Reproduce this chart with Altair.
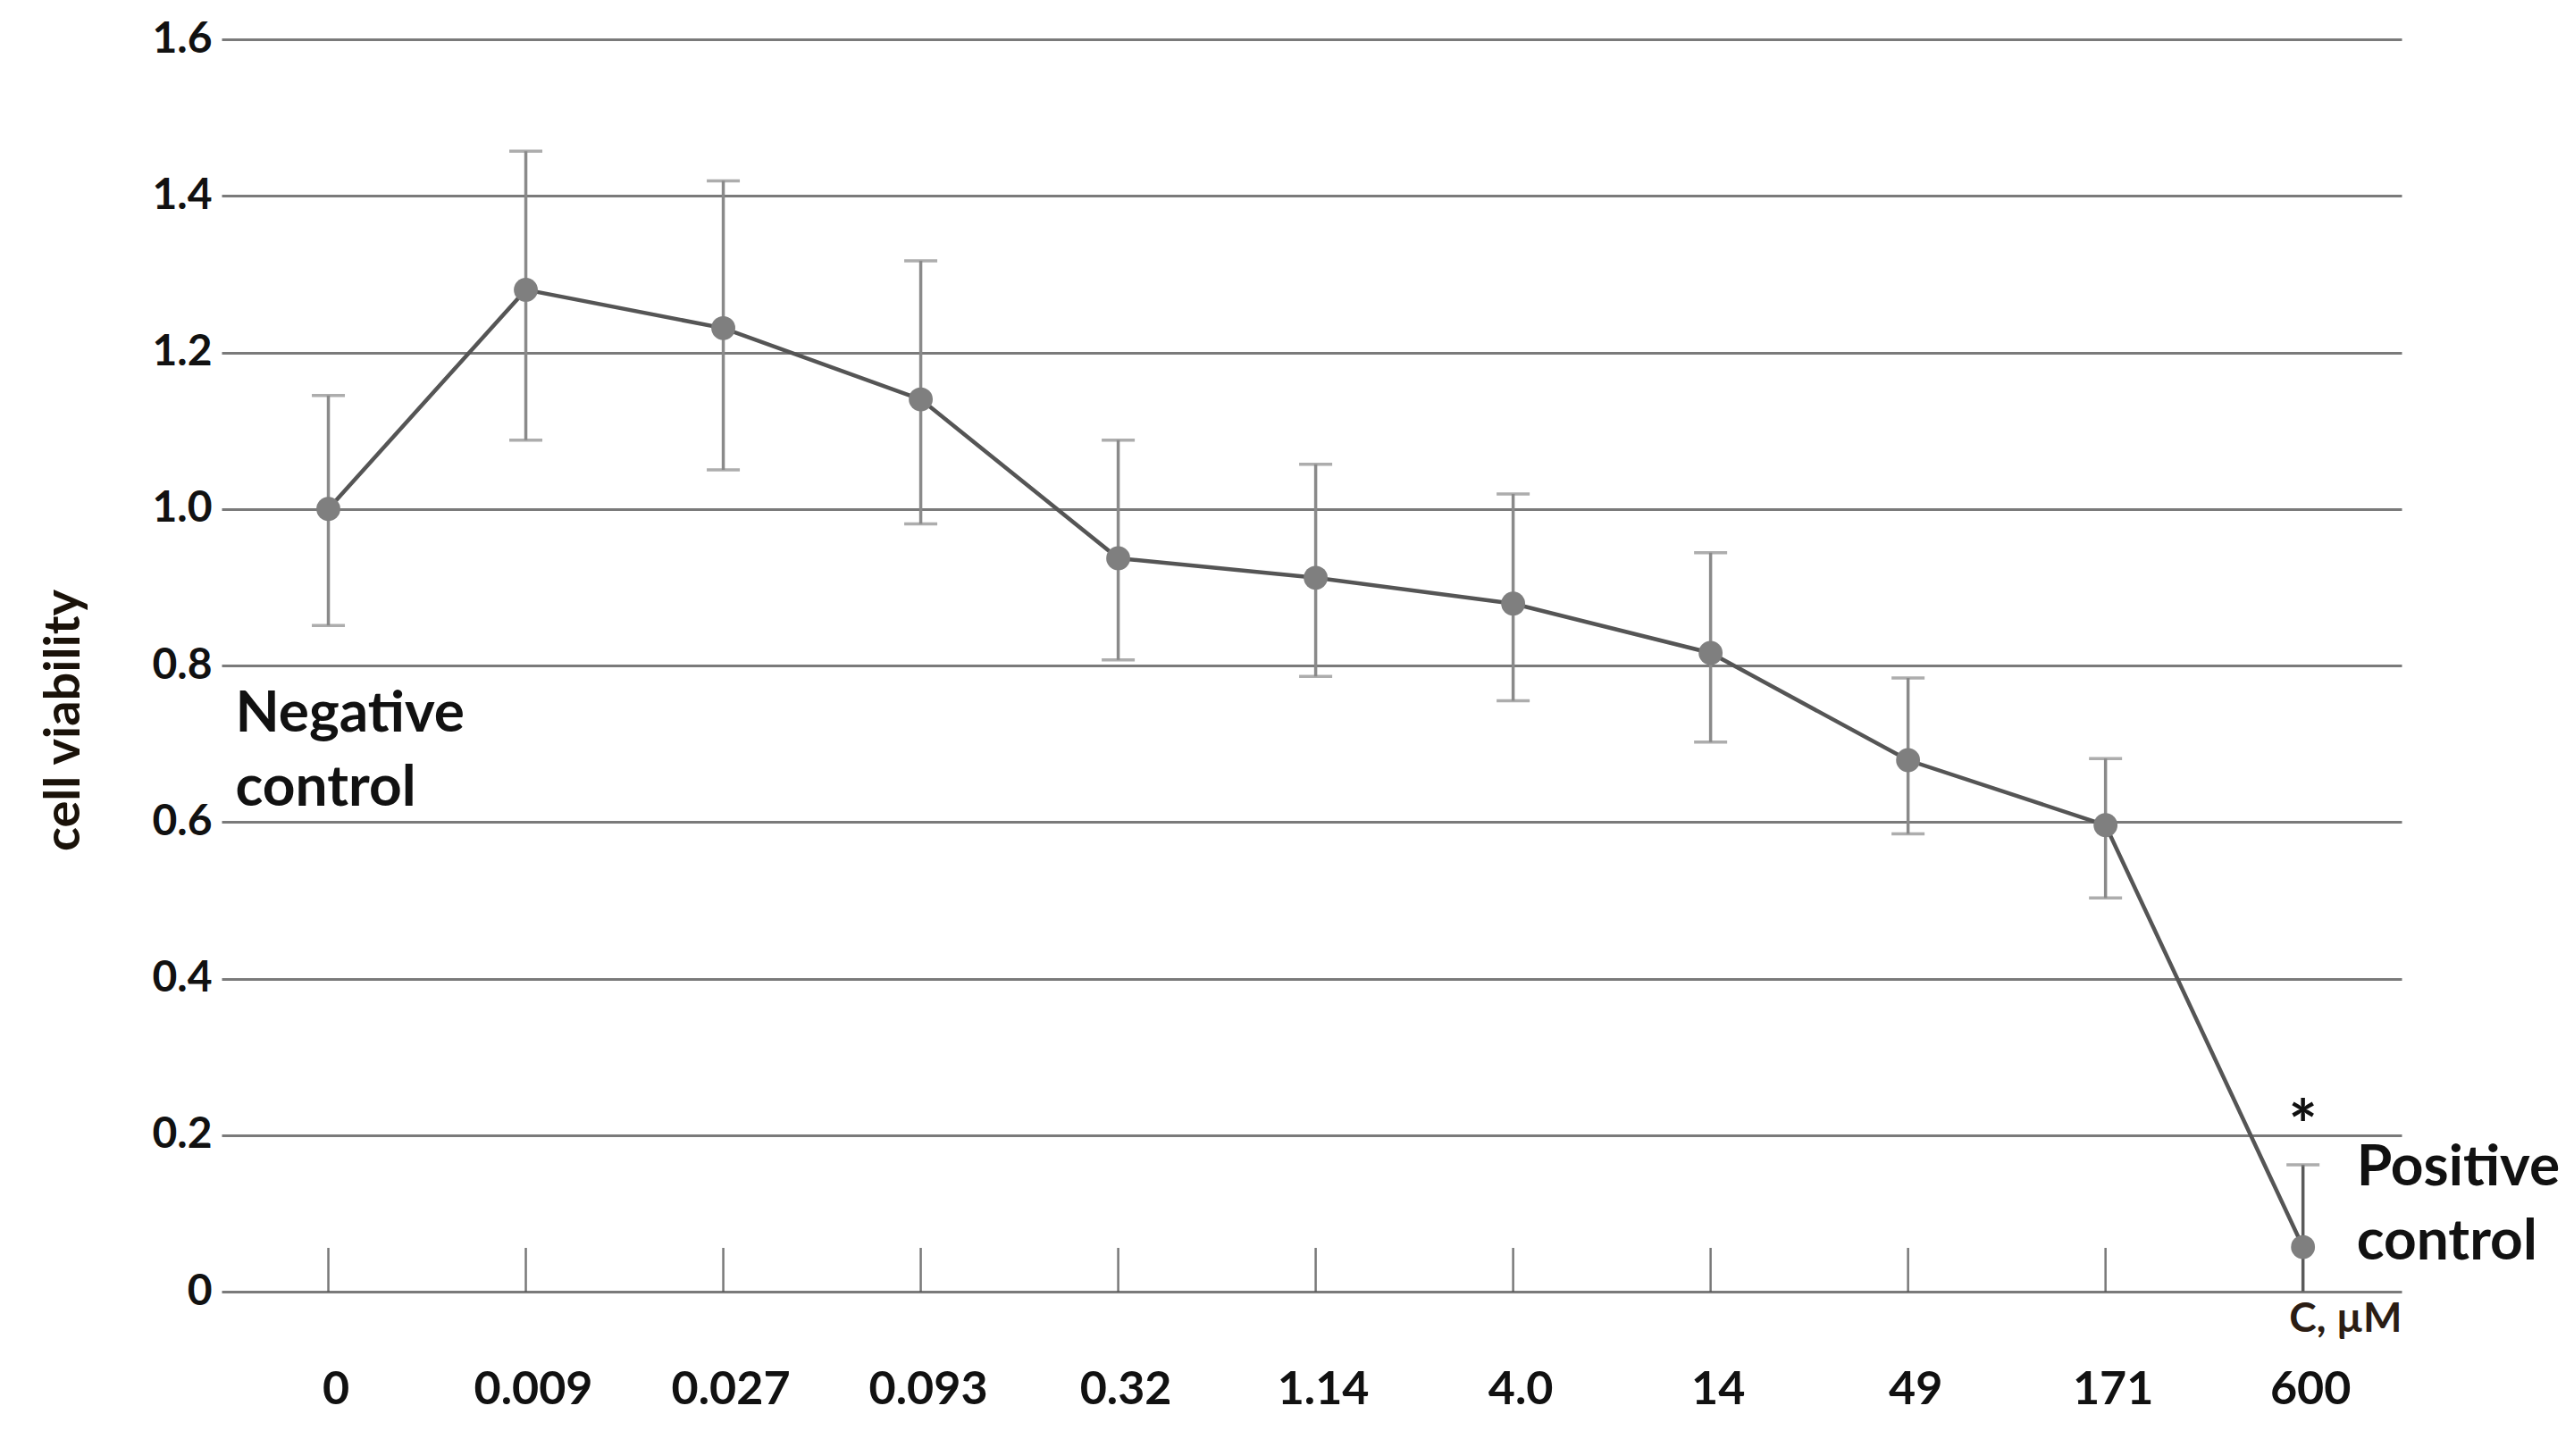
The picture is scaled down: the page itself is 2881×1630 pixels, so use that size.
import altair as alt
import pandas as pd

# ---- data ----
concentrations = ["0", "0.009", "0.027", "0.093", "0.32", "1.14", "4.0", "14", "49", "171", "600"]
viability = [1.000, 1.280, 1.231, 1.140, 0.937, 0.912, 0.879, 0.816, 0.679, 0.596, 0.057]
err_high = [1.145, 1.457, 1.419, 1.317, 1.088, 1.057, 1.019, 0.944, 0.784, 0.681, 0.162]
err_low = [0.851, 1.088, 1.050, 0.981, 0.807, 0.786, 0.755, 0.702, 0.585, 0.503, 0.000]
y_ticks = [0, 0.2, 0.4, 0.6, 0.8, 1.0, 1.2, 1.4, 1.6]

df = pd.DataFrame({"conc": concentrations, "v": viability, "lo": err_low, "hi": err_high})

caps_conc = concentrations + concentrations[:-1]
caps_val = err_high + err_low[:-1]
caps = pd.DataFrame({"conc": caps_conc, "val": caps_val})

notes = pd.DataFrame({
    "conc": ["0", "600", "600"],
    "y": [0.7155, 0.136, 0.233],
    "text": ["Negative\ncontrol", "Positive\ncontrol", "*"],
})

FONT = "Lato"

x_enc = alt.X(
    "conc:O",
    sort=concentrations,
    scale=alt.Scale(type="point", padding=0.52, align=0.52),
    axis=alt.Axis(
        title="C, µM", titleX=2440, titleY=44, titleAlign="right", titleBaseline="alphabetic",
        titleFont=FONT, titleFontSize=46, titleFontWeight="bold", titleColor="#2b1d14",
        labelFont=FONT, labelFontSize=52, labelFontWeight="bold", labelColor="#111111",
        labelAngle=0, labelBaseline="alphabetic", labelPadding=125, labelOffset=8,
        ticks=False, tickSize=0, domain=False, grid=False,
    ),
)

y_scale = alt.Scale(domain=[0, 1.6], nice=False, zero=True)
y_axis = alt.Axis(
    values=y_ticks,
    labelExpr="datum.value == 0 ? '0' : format(datum.value, '.1f')",
    title="cell viability", titleX=-177, titleY=762, titleAngle=270,
    titleAlign="center", titleBaseline="middle",
    titleFont=FONT, titleFontSize=56, titleFontWeight="bold", titleColor="#1a1209",
    labelFont=FONT, labelFontSize=48, labelFontWeight="bold", labelColor="#111111",
    labelPadding=11, ticks=False, tickSize=0, domain=False,
    grid=True, gridColor="#7a7a7a", gridWidth=3, gridOpacity=1,
)

base = alt.Chart(df)

ticks = base.mark_tick(orient="vertical", size=49, thickness=2.5, color="#404040", yOffset=-24.5).encode(
    x=x_enc, y=alt.datum(0, scale=y_scale, axis=y_axis, type="quantitative")
)

bars = base.mark_rule(strokeWidth=3.5).encode(
    x=x_enc,
    y=alt.Y("lo:Q", scale=y_scale),
    y2="hi:Q",
    color=alt.condition(alt.datum.conc == "600", alt.value("#5a5a5a"), alt.value("#8a8a8a")),
)

cap_marks = alt.Chart(caps).mark_tick(orient="horizontal", size=37, thickness=3.5, color="#8a8a8a").encode(
    x=x_enc, y=alt.Y("val:Q", scale=y_scale)
)

line = base.mark_line(color="#555555", strokeWidth=4.5).encode(
    x=x_enc, y=alt.Y("v:Q", scale=y_scale)
)

points = base.mark_circle(size=720, color="#7f7f7f", opacity=1).encode(
    x=x_enc, y=alt.Y("v:Q", scale=y_scale)
)

neg = alt.Chart(notes[notes.text.str.startswith("Neg")]).mark_text(
    align="left", baseline="alphabetic", font=FONT, fontSize=64, fontWeight="bold",
    color="#111111", lineBreak="\n", lineHeight=83, dx=-104,
).encode(x=x_enc, y=alt.Y("y:Q", scale=y_scale), text="text:N")

pos = alt.Chart(notes[notes.text.str.startswith("Pos")]).mark_text(
    align="left", baseline="alphabetic", font=FONT, fontSize=64, fontWeight="bold",
    color="#111111", lineBreak="\n", lineHeight=83, dx=60,
).encode(x=x_enc, y=alt.Y("y:Q", scale=y_scale), text="text:N")

star = alt.Chart(notes[notes.text == "*"]).mark_text(
    align="center", baseline="middle", font=FONT, fontSize=76, fontWeight="bold", color="#111111", dy=22,
).encode(x=x_enc, y=alt.Y("y:Q", scale=y_scale), text="text:N")

chart = alt.layer(ticks, bars, cap_marks, line, points, neg, pos, star).properties(
    width=2440,
    height=1402,
    padding={"left": 240, "top": 36, "right": 180, "bottom": 176},
    autosize=alt.AutoSizeParams(type="none"),
    background="white",
).configure_view(stroke=None)

chart.save("out.html", embed_options={"renderer": "svg", "actions": False})
